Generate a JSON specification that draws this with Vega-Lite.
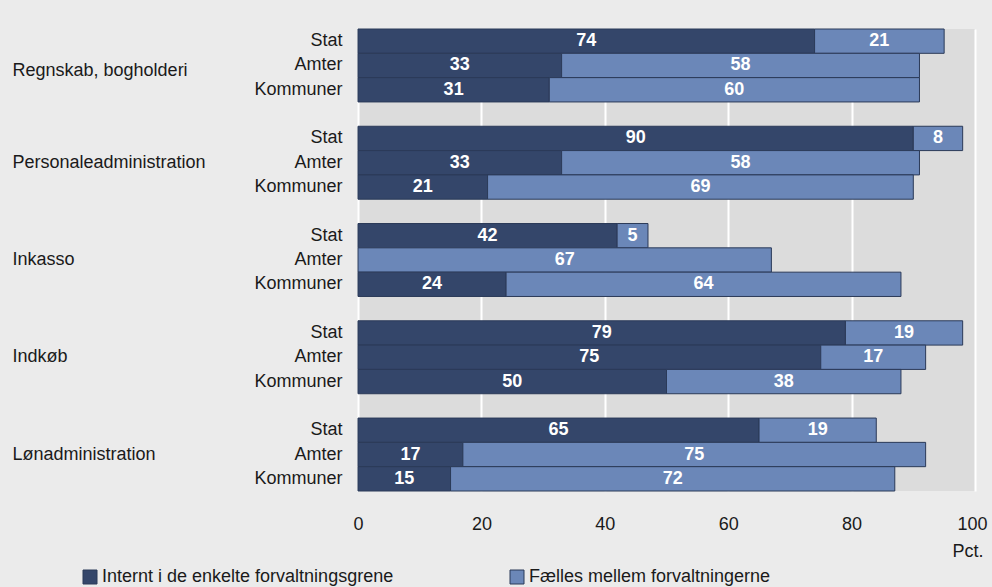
{
  "$schema": "https://vega.github.io/schema/vega-lite/v6.json",
  "width": 617,
  "height": 462,
  "autosize": {"type": "none"},
  "padding": {"left": 358, "top": 29, "right": 17, "bottom": 96},
  "background": "#ebebeb",
  "config": {"font": "Liberation Sans", "view": {"fill": "#dcdcdc", "stroke": null}},
  "data": {
    "values": [
      {"row": "Regnskab, bogholderi|Stat", "serie": "Internt i de enkelte forvaltningsgrene", "pct": 74},
      {"row": "Regnskab, bogholderi|Stat", "serie": "Fælles mellem forvaltningerne", "pct": 21},
      {"row": "Regnskab, bogholderi|Amter", "serie": "Internt i de enkelte forvaltningsgrene", "pct": 33},
      {"row": "Regnskab, bogholderi|Amter", "serie": "Fælles mellem forvaltningerne", "pct": 58},
      {"row": "Regnskab, bogholderi|Kommuner", "serie": "Internt i de enkelte forvaltningsgrene", "pct": 31},
      {"row": "Regnskab, bogholderi|Kommuner", "serie": "Fælles mellem forvaltningerne", "pct": 60},
      {"row": "Personaleadministration|Stat", "serie": "Internt i de enkelte forvaltningsgrene", "pct": 90},
      {"row": "Personaleadministration|Stat", "serie": "Fælles mellem forvaltningerne", "pct": 8},
      {"row": "Personaleadministration|Amter", "serie": "Internt i de enkelte forvaltningsgrene", "pct": 33},
      {"row": "Personaleadministration|Amter", "serie": "Fælles mellem forvaltningerne", "pct": 58},
      {"row": "Personaleadministration|Kommuner", "serie": "Internt i de enkelte forvaltningsgrene", "pct": 21},
      {"row": "Personaleadministration|Kommuner", "serie": "Fælles mellem forvaltningerne", "pct": 69},
      {"row": "Inkasso|Stat", "serie": "Internt i de enkelte forvaltningsgrene", "pct": 42},
      {"row": "Inkasso|Stat", "serie": "Fælles mellem forvaltningerne", "pct": 5},
      {"row": "Inkasso|Amter", "serie": "Fælles mellem forvaltningerne", "pct": 67},
      {"row": "Inkasso|Kommuner", "serie": "Internt i de enkelte forvaltningsgrene", "pct": 24},
      {"row": "Inkasso|Kommuner", "serie": "Fælles mellem forvaltningerne", "pct": 64},
      {"row": "Indkøb|Stat", "serie": "Internt i de enkelte forvaltningsgrene", "pct": 79},
      {"row": "Indkøb|Stat", "serie": "Fælles mellem forvaltningerne", "pct": 19},
      {"row": "Indkøb|Amter", "serie": "Internt i de enkelte forvaltningsgrene", "pct": 75},
      {"row": "Indkøb|Amter", "serie": "Fælles mellem forvaltningerne", "pct": 17},
      {"row": "Indkøb|Kommuner", "serie": "Internt i de enkelte forvaltningsgrene", "pct": 50},
      {"row": "Indkøb|Kommuner", "serie": "Fælles mellem forvaltningerne", "pct": 38},
      {"row": "Lønadministration|Stat", "serie": "Internt i de enkelte forvaltningsgrene", "pct": 65},
      {"row": "Lønadministration|Stat", "serie": "Fælles mellem forvaltningerne", "pct": 19},
      {"row": "Lønadministration|Amter", "serie": "Internt i de enkelte forvaltningsgrene", "pct": 17},
      {"row": "Lønadministration|Amter", "serie": "Fælles mellem forvaltningerne", "pct": 75},
      {"row": "Lønadministration|Kommuner", "serie": "Internt i de enkelte forvaltningsgrene", "pct": 15},
      {"row": "Lønadministration|Kommuner", "serie": "Fælles mellem forvaltningerne", "pct": 72}
    ]
  },
  "layer": [
    {
      "mark": {"type": "bar", "stroke": "#2b3a58", "strokeWidth": 1},
      "encoding": {
        "y": {
          "field": "row",
          "type": "nominal",
          "scale": {
            "domain": [
              "Regnskab, bogholderi|Stat", "Regnskab, bogholderi|Amter", "Regnskab, bogholderi|Kommuner", "g1",
              "Personaleadministration|Stat", "Personaleadministration|Amter", "Personaleadministration|Kommuner", "g2",
              "Inkasso|Stat", "Inkasso|Amter", "Inkasso|Kommuner", "g3",
              "Indkøb|Stat", "Indkøb|Amter", "Indkøb|Kommuner", "g4",
              "Lønadministration|Stat", "Lønadministration|Amter", "Lønadministration|Kommuner"
            ],
            "paddingInner": 0,
            "paddingOuter": 0
          },
          "axis": {
            "title": null,
            "domain": false,
            "ticks": false,
            "tickSize": 0,
            "labelPadding": 16,
            "labelFontSize": 18,
            "labelColor": "#1a1a1a",
            "labelAlign": "right",
            "labelBaseline": "middle",
            "labelOverlap": false,
            "labelLimit": 0,
            "labelExpr": "indexof(datum.value, '|') > 0 ? split(datum.value, '|')[1] : ''"
          }
        },
        "x": {
          "field": "pct",
          "type": "quantitative",
          "stack": "zero",
          "scale": {"domain": [0, 100], "nice": false},
          "axis": {
            "values": [0, 20, 40, 60, 80, 100],
            "grid": true,
            "gridColor": "#ffffff",
            "gridWidth": 2,
            "domain": false,
            "ticks": false,
            "tickSize": 0,
            "labelFlush": false,
            "labelOffset": {"condition": {"test": "datum.value === 100", "value": -3}, "value": 0},
            "labelPadding": 24,
            "labelFontSize": 18,
            "labelColor": "#1a1a1a",
            "title": "Pct.",
            "titleFontWeight": "normal",
            "titleFontSize": 18,
            "titleColor": "#1a1a1a",
            "titleX": 625,
            "titleY": 65,
            "titleAlign": "right",
            "titleBaseline": "alphabetic"
          }
        },
        "color": {
          "field": "serie",
          "type": "nominal",
          "scale": {
            "domain": ["Internt i de enkelte forvaltningsgrene", "Fælles mellem forvaltningerne"],
            "range": ["#34466a", "#6b87b8"]
          },
          "legend": {
            "title": null,
            "orient": "none",
            "legendX": -277,
            "legendY": 539,
            "direction": "horizontal",
            "symbolType": "square",
            "symbolSize": 196,
            "symbolStrokeColor": "#2b3a58",
            "symbolStrokeWidth": 1,
            "labelFontSize": 18,
            "labelColor": "#1a1a1a",
            "columnPadding": 114,
            "labelOffset": 3,
            "labelLimit": 0
          }
        },
        "order": {"field": "serie", "sort": "descending"}
      }
    },
    {
      "mark": {"type": "text", "color": "#ffffff", "fontWeight": "bold", "fontSize": 18, "baseline": "middle", "align": "center"},
      "encoding": {
        "y": {
          "field": "row",
          "type": "nominal",
          "axis": {
            "title": null,
            "orient": "left",
            "domain": false,
            "ticks": false,
            "tickSize": 0,
            "labelPadding": 346,
            "labelFontSize": 18,
            "labelColor": "#1a1a1a",
            "labelAlign": "left",
            "labelBaseline": "middle",
            "labelOverlap": false,
            "labelLimit": 0,
            "labelOffset": {"condition": {"test": "indexof(datum.value, 'Regnskab') === 0", "value": 6}, "value": 0},
            "labelExpr": "indexof(datum.value, '|Amter') > 0 ? split(datum.value, '|')[0] : ''"
          }
        },
        "x": {"field": "pct", "type": "quantitative", "stack": "zero", "bandPosition": 0.5},
        "text": {"field": "pct", "type": "quantitative"},
        "order": {"field": "serie", "sort": "descending"}
      }
    }
  ],
  "resolve": {"axis": {"y": "independent"}}
}
